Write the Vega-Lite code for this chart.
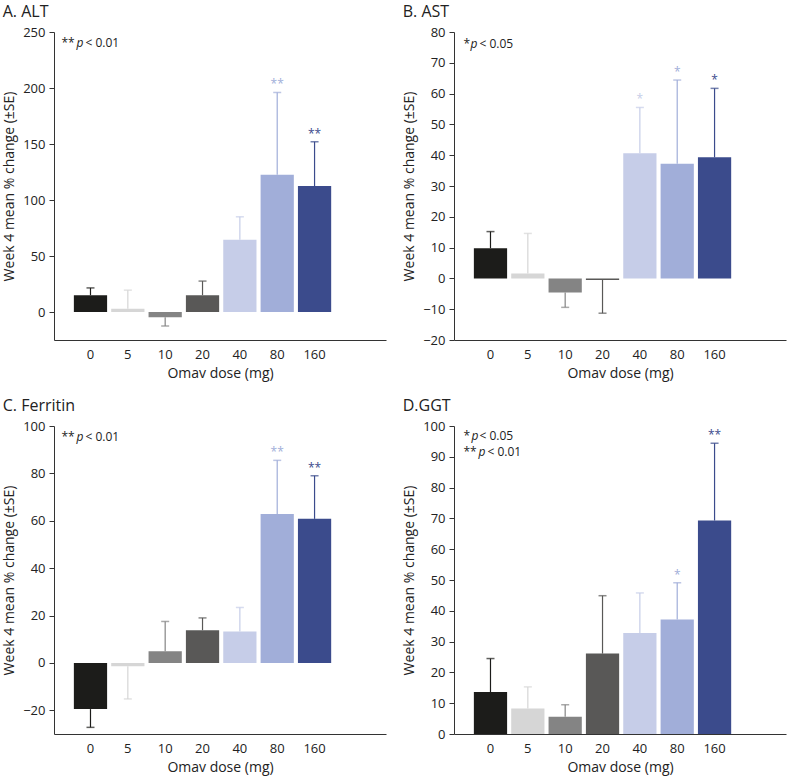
{
  "$schema": "https://vega.github.io/schema/vega-lite/v6.json",
  "padding": {"left": 2, "top": 4, "right": 2, "bottom": 2},
  "datasets": {
    "alt": [
      {"dose": "0", "value": 15, "err": 21.5, "star": ""},
      {"dose": "5", "value": 3, "err": 19.5, "star": ""},
      {"dose": "10", "value": -4.7, "err": -12.5, "star": ""},
      {"dose": "20", "value": 15, "err": 27.6, "star": ""},
      {"dose": "40", "value": 64.5, "err": 85, "star": ""},
      {"dose": "80", "value": 122.5, "err": 196, "star": "**"},
      {"dose": "160", "value": 112.5, "err": 152, "star": "**"}
    ],
    "ast": [
      {"dose": "0", "value": 9.8, "err": 15.2, "star": ""},
      {"dose": "5", "value": 1.6, "err": 14.6, "star": ""},
      {"dose": "10", "value": -4.6, "err": -9.4, "star": ""},
      {"dose": "20", "value": -0.5, "err": -11.3, "star": ""},
      {"dose": "40", "value": 40.6, "err": 55.5, "star": "*"},
      {"dose": "80", "value": 37.2, "err": 64.4, "star": "*"},
      {"dose": "160", "value": 39.3, "err": 61.7, "star": "*"}
    ],
    "ferritin": [
      {"dose": "0", "value": -19.5, "err": -27.2, "star": ""},
      {"dose": "5", "value": -1.4, "err": -15.2, "star": ""},
      {"dose": "10", "value": 4.9, "err": 17.5, "star": ""},
      {"dose": "20", "value": 13.8, "err": 19, "star": ""},
      {"dose": "40", "value": 13.3, "err": 23.4, "star": ""},
      {"dose": "80", "value": 62.9, "err": 85.5, "star": "**"},
      {"dose": "160", "value": 60.8, "err": 79, "star": "**"}
    ],
    "ggt": [
      {"dose": "0", "value": 13.6, "err": 24.5, "star": ""},
      {"dose": "5", "value": 8.3, "err": 15.3, "star": ""},
      {"dose": "10", "value": 5.6, "err": 9.5, "star": ""},
      {"dose": "20", "value": 26.1, "err": 44.9, "star": ""},
      {"dose": "40", "value": 32.8, "err": 45.8, "star": ""},
      {"dose": "80", "value": 37.2, "err": 49.1, "star": "*"},
      {"dose": "160", "value": 69.3, "err": 94.4, "star": "**"}
    ]
  },
  "columns": 2,
  "spacing": {"column": 16, "row": 18},
  "concat": [
    {
      "title": {"text": "A. ALT"},
      "width": 332, "height": 308,
      "data": {"name": "alt"},
      "encoding": {
        "x": {"field": "dose", "type": "nominal", "title": "Omav dose (mg)",
              "scale": {"type": "band", "domain": ["0","5","10","20","40","80","160"], "paddingInner": 0.11, "paddingOuter": 1.04, "align": 0.266},
              "axis": {"labelAngle": 0}},
        "color": {"field": "dose", "type": "nominal", "legend": null,
                  "scale": {"domain": ["0","5","10","20","40","80","160"], "range": ["#1c1c1a","#d6d6d6","#848484","#595857","#c6cde8","#a1aed9","#3b4b8c"]}}
      },
      "layer": [
        {"mark": {"type": "rule", "strokeWidth": 1.2},
         "encoding": {"y": {"field": "value", "type": "quantitative", "scale": {"domain": [-25, 250], "nice": false}, "axis": {"values": [0,50,100,150,200,250], "tickCount": 6}, "title": "Week 4 mean % change (±SE)"}, "y2": {"field": "err"}}},
        {"mark": {"type": "tick", "orient": "horizontal", "size": 8, "thickness": 1.5},
         "encoding": {"y": {"field": "err", "type": "quantitative", "axis": {"values": [0,50,100,150,200,250], "tickCount": 6}, "title": "Week 4 mean % change (±SE)"}}},
        {"mark": {"type": "bar", "width": {"band": 1}},
         "encoding": {"y": {"field": "value", "type": "quantitative", "axis": {"values": [0,50,100,150,200,250], "tickCount": 6}, "title": "Week 4 mean % change (±SE)"}, "y2": {"datum": 0}}},
        {"data": {"values": [{}]},
         "mark": {"type": "rule", "strokeWidth": 1.5},
         "encoding": {"y": {"datum": 0, "axis": {"values": [0,50,100,150,200,250], "tickCount": 6}, "title": "Week 4 mean % change (±SE)"}, "color": {"value": "#cfcfcf"}}},
        {"transform": [{"filter": "datum.star != ''"}],
         "mark": {"type": "text", "baseline": "bottom", "dy": -1, "fontSize": 12},
         "encoding": {"y": {"field": "err", "type": "quantitative", "axis": {"values": [0,50,100,150,200,250], "tickCount": 6}, "title": "Week 4 mean % change (±SE)"}, "text": {"field": "star"}}},
        {"data": {"values": [{}]},
         "mark": {"type": "text", "text": "**", "align": "left", "baseline": "middle", "dx": -29, "fontSize": 12},
         "encoding": {"x": {"datum": "0"}, "y": {"datum": 240, "axis": {"values": [0,50,100,150,200,250], "tickCount": 6}, "title": "Week 4 mean % change (±SE)"}, "color": {"value": "#222"}}},
        {"data": {"values": [{}]},
         "mark": {"type": "text", "text": "p", "align": "left", "baseline": "middle", "dx": -14, "fontSize": 12, "fontStyle": "italic"},
         "encoding": {"x": {"datum": "0"}, "y": {"datum": 240, "axis": {"values": [0,50,100,150,200,250], "tickCount": 6}, "title": "Week 4 mean % change (±SE)"}, "color": {"value": "#222"}}},
        {"data": {"values": [{}]},
         "mark": {"type": "text", "text": "< 0.01", "align": "left", "baseline": "middle", "dx": -5, "fontSize": 12},
         "encoding": {"x": {"datum": "0"}, "y": {"datum": 240, "axis": {"values": [0,50,100,150,200,250], "tickCount": 6}, "title": "Week 4 mean % change (±SE)"}, "color": {"value": "#222"}}}
      ]
    },
    {
      "title": {"text": "B. AST"},
      "width": 332, "height": 308,
      "data": {"name": "ast"},
      "encoding": {
        "x": {"field": "dose", "type": "nominal", "title": "Omav dose (mg)",
              "scale": {"type": "band", "domain": ["0","5","10","20","40","80","160"], "paddingInner": 0.11, "paddingOuter": 1.04, "align": 0.266},
              "axis": {"labelAngle": 0}},
        "color": {"field": "dose", "type": "nominal", "legend": null,
                  "scale": {"domain": ["0","5","10","20","40","80","160"], "range": ["#1c1c1a","#d6d6d6","#848484","#595857","#c6cde8","#a1aed9","#3b4b8c"]}}
      },
      "layer": [
        {"mark": {"type": "rule", "strokeWidth": 1.2},
         "encoding": {"y": {"field": "value", "type": "quantitative", "scale": {"domain": [-20, 80], "nice": false}, "axis": {"values": [-20,-10,0,10,20,30,40,50,60,70,80], "tickCount": 11}, "title": "Week 4 mean % change (±SE)"}, "y2": {"field": "err"}}},
        {"mark": {"type": "tick", "orient": "horizontal", "size": 8, "thickness": 1.5},
         "encoding": {"y": {"field": "err", "type": "quantitative", "axis": {"values": [-20,-10,0,10,20,30,40,50,60,70,80], "tickCount": 11}, "title": "Week 4 mean % change (±SE)"}}},
        {"mark": {"type": "bar", "width": {"band": 1}},
         "encoding": {"y": {"field": "value", "type": "quantitative", "axis": {"values": [-20,-10,0,10,20,30,40,50,60,70,80], "tickCount": 11}, "title": "Week 4 mean % change (±SE)"}, "y2": {"datum": 0}}},
        {"data": {"values": [{}]},
         "mark": {"type": "rule", "strokeWidth": 1.5},
         "encoding": {"y": {"datum": 0, "axis": {"values": [-20,-10,0,10,20,30,40,50,60,70,80], "tickCount": 11}, "title": "Week 4 mean % change (±SE)"}, "color": {"value": "#cfcfcf"}}},
        {"transform": [{"filter": "datum.star != ''"}],
         "mark": {"type": "text", "baseline": "bottom", "dy": -1, "fontSize": 12},
         "encoding": {"y": {"field": "err", "type": "quantitative", "axis": {"values": [-20,-10,0,10,20,30,40,50,60,70,80], "tickCount": 11}, "title": "Week 4 mean % change (±SE)"}, "text": {"field": "star"}}},
        {"data": {"values": [{}]},
         "mark": {"type": "text", "text": "*", "align": "left", "baseline": "middle", "dx": -27, "fontSize": 12},
         "encoding": {"x": {"datum": "0"}, "y": {"datum": 76, "axis": {"values": [-20,-10,0,10,20,30,40,50,60,70,80], "tickCount": 11}, "title": "Week 4 mean % change (±SE)"}, "color": {"value": "#222"}}},
        {"data": {"values": [{}]},
         "mark": {"type": "text", "text": "p", "align": "left", "baseline": "middle", "dx": -20, "fontSize": 12, "fontStyle": "italic"},
         "encoding": {"x": {"datum": "0"}, "y": {"datum": 76, "axis": {"values": [-20,-10,0,10,20,30,40,50,60,70,80], "tickCount": 11}, "title": "Week 4 mean % change (±SE)"}, "color": {"value": "#222"}}},
        {"data": {"values": [{}]},
         "mark": {"type": "text", "text": "< 0.05", "align": "left", "baseline": "middle", "dx": -11, "fontSize": 12},
         "encoding": {"x": {"datum": "0"}, "y": {"datum": 76, "axis": {"values": [-20,-10,0,10,20,30,40,50,60,70,80], "tickCount": 11}, "title": "Week 4 mean % change (±SE)"}, "color": {"value": "#222"}}}
      ]
    },
    {
      "title": {"text": "C. Ferritin"},
      "width": 332, "height": 308,
      "data": {"name": "ferritin"},
      "encoding": {
        "x": {"field": "dose", "type": "nominal", "title": "Omav dose (mg)",
              "scale": {"type": "band", "domain": ["0","5","10","20","40","80","160"], "paddingInner": 0.11, "paddingOuter": 1.04, "align": 0.266},
              "axis": {"labelAngle": 0}},
        "color": {"field": "dose", "type": "nominal", "legend": null,
                  "scale": {"domain": ["0","5","10","20","40","80","160"], "range": ["#1c1c1a","#d6d6d6","#848484","#595857","#c6cde8","#a1aed9","#3b4b8c"]}}
      },
      "layer": [
        {"mark": {"type": "rule", "strokeWidth": 1.2},
         "encoding": {"y": {"field": "value", "type": "quantitative", "scale": {"domain": [-30, 100], "nice": false}, "axis": {"values": [-20,0,20,40,60,80,100]}, "title": "Week 4 mean % change (±SE)"}, "y2": {"field": "err"}}},
        {"mark": {"type": "tick", "orient": "horizontal", "size": 8, "thickness": 1.5},
         "encoding": {"y": {"field": "err", "type": "quantitative", "axis": {"values": [-20,0,20,40,60,80,100]}, "title": "Week 4 mean % change (±SE)"}}},
        {"mark": {"type": "bar", "width": {"band": 1}},
         "encoding": {"y": {"field": "value", "type": "quantitative", "axis": {"values": [-20,0,20,40,60,80,100]}, "title": "Week 4 mean % change (±SE)"}, "y2": {"datum": 0}}},
        {"data": {"values": [{}]},
         "mark": {"type": "rule", "strokeWidth": 2},
         "encoding": {"y": {"datum": 0, "axis": {"values": [-20,0,20,40,60,80,100]}, "title": "Week 4 mean % change (±SE)"}, "color": {"value": "#dcdcdc"}}},
        {"transform": [{"filter": "datum.star != ''"}],
         "mark": {"type": "text", "baseline": "bottom", "dy": -1, "fontSize": 12},
         "encoding": {"y": {"field": "err", "type": "quantitative", "axis": {"values": [-20,0,20,40,60,80,100]}, "title": "Week 4 mean % change (±SE)"}, "text": {"field": "star"}}},
        {"data": {"values": [{}]},
         "mark": {"type": "text", "text": "**", "align": "left", "baseline": "middle", "dx": -29, "fontSize": 12},
         "encoding": {"x": {"datum": "0"}, "y": {"datum": 95.5, "axis": {"values": [-20,0,20,40,60,80,100]}, "title": "Week 4 mean % change (±SE)"}, "color": {"value": "#222"}}},
        {"data": {"values": [{}]},
         "mark": {"type": "text", "text": "p", "align": "left", "baseline": "middle", "dx": -14, "fontSize": 12, "fontStyle": "italic"},
         "encoding": {"x": {"datum": "0"}, "y": {"datum": 95.5, "axis": {"values": [-20,0,20,40,60,80,100]}, "title": "Week 4 mean % change (±SE)"}, "color": {"value": "#222"}}},
        {"data": {"values": [{}]},
         "mark": {"type": "text", "text": "< 0.01", "align": "left", "baseline": "middle", "dx": -5, "fontSize": 12},
         "encoding": {"x": {"datum": "0"}, "y": {"datum": 95.5, "axis": {"values": [-20,0,20,40,60,80,100]}, "title": "Week 4 mean % change (±SE)"}, "color": {"value": "#222"}}}
      ]
    },
    {
      "title": {"text": "D.GGT"},
      "width": 332, "height": 308,
      "data": {"name": "ggt"},
      "encoding": {
        "x": {"field": "dose", "type": "nominal", "title": "Omav dose (mg)",
              "scale": {"type": "band", "domain": ["0","5","10","20","40","80","160"], "paddingInner": 0.11, "paddingOuter": 1.04, "align": 0.266},
              "axis": {"labelAngle": 0}},
        "color": {"field": "dose", "type": "nominal", "legend": null,
                  "scale": {"domain": ["0","5","10","20","40","80","160"], "range": ["#1c1c1a","#d6d6d6","#848484","#595857","#c6cde8","#a1aed9","#3b4b8c"]}}
      },
      "layer": [
        {"mark": {"type": "rule", "strokeWidth": 1.2},
         "encoding": {"y": {"field": "value", "type": "quantitative", "scale": {"domain": [0, 100], "nice": false}, "axis": {"values": [0,10,20,30,40,50,60,70,80,90,100], "tickCount": 11}, "title": "Week 4 mean % change (±SE)"}, "y2": {"field": "err"}}},
        {"mark": {"type": "tick", "orient": "horizontal", "size": 8, "thickness": 1.5},
         "encoding": {"y": {"field": "err", "type": "quantitative", "axis": {"values": [0,10,20,30,40,50,60,70,80,90,100], "tickCount": 11}, "title": "Week 4 mean % change (±SE)"}}},
        {"mark": {"type": "bar", "width": {"band": 1}},
         "encoding": {"y": {"field": "value", "type": "quantitative", "axis": {"values": [0,10,20,30,40,50,60,70,80,90,100], "tickCount": 11}, "title": "Week 4 mean % change (±SE)"}, "y2": {"datum": 0}}},
        {"transform": [{"filter": "datum.star != ''"}],
         "mark": {"type": "text", "baseline": "bottom", "dy": -1, "fontSize": 12},
         "encoding": {"y": {"field": "err", "type": "quantitative", "axis": {"values": [0,10,20,30,40,50,60,70,80,90,100], "tickCount": 11}, "title": "Week 4 mean % change (±SE)"}, "text": {"field": "star"}}},
        {"data": {"values": [{}]},
         "mark": {"type": "text", "text": "*", "align": "left", "baseline": "middle", "dx": -27, "fontSize": 12},
         "encoding": {"x": {"datum": "0"}, "y": {"datum": 96.7, "axis": {"values": [0,10,20,30,40,50,60,70,80,90,100], "tickCount": 11}, "title": "Week 4 mean % change (±SE)"}, "color": {"value": "#222"}}},
        {"data": {"values": [{}]},
         "mark": {"type": "text", "text": "p", "align": "left", "baseline": "middle", "dx": -19, "fontSize": 12, "fontStyle": "italic"},
         "encoding": {"x": {"datum": "0"}, "y": {"datum": 96.7, "axis": {"values": [0,10,20,30,40,50,60,70,80,90,100], "tickCount": 11}, "title": "Week 4 mean % change (±SE)"}, "color": {"value": "#222"}}},
        {"data": {"values": [{}]},
         "mark": {"type": "text", "text": "< 0.05", "align": "left", "baseline": "middle", "dx": -11, "fontSize": 12},
         "encoding": {"x": {"datum": "0"}, "y": {"datum": 96.7, "axis": {"values": [0,10,20,30,40,50,60,70,80,90,100], "tickCount": 11}, "title": "Week 4 mean % change (±SE)"}, "color": {"value": "#222"}}},
        {"data": {"values": [{}]},
         "mark": {"type": "text", "text": "**", "align": "left", "baseline": "middle", "dx": -27, "fontSize": 12},
         "encoding": {"x": {"datum": "0"}, "y": {"datum": 91.5, "axis": {"values": [0,10,20,30,40,50,60,70,80,90,100], "tickCount": 11}, "title": "Week 4 mean % change (±SE)"}, "color": {"value": "#222"}}},
        {"data": {"values": [{}]},
         "mark": {"type": "text", "text": "p", "align": "left", "baseline": "middle", "dx": -12, "fontSize": 12, "fontStyle": "italic"},
         "encoding": {"x": {"datum": "0"}, "y": {"datum": 91.5, "axis": {"values": [0,10,20,30,40,50,60,70,80,90,100], "tickCount": 11}, "title": "Week 4 mean % change (±SE)"}, "color": {"value": "#222"}}},
        {"data": {"values": [{}]},
         "mark": {"type": "text", "text": "< 0.01", "align": "left", "baseline": "middle", "dx": -3, "fontSize": 12},
         "encoding": {"x": {"datum": "0"}, "y": {"datum": 91.5, "axis": {"values": [0,10,20,30,40,50,60,70,80,90,100], "tickCount": 11}, "title": "Week 4 mean % change (±SE)"}, "color": {"value": "#222"}}}
      ]
    }
  ],
  "config": {
    "font": "Open Sans",
    "view": {"stroke": null},
    "title": {"anchor": "start", "fontSize": 16, "fontWeight": "normal", "color": "#222", "offset": 6},
    "axis": {"grid": false, "domainColor": "#333", "tickColor": "#333", "labelFontSize": 13, "labelColor": "#222", "titleFontSize": 14, "titleFontWeight": "normal", "titleColor": "#222", "labelOverlap": false},
    "axisX": {"ticks": false, "labelPadding": 8, "titlePadding": 5},
    "axisY": {"tickSize": 5, "labelPadding": 4, "titlePadding": 6}
  }
}
